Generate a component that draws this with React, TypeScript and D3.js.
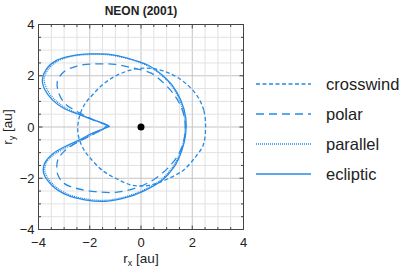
import React from 'react';
import * as d3 from 'd3';

type Pt = [number, number];

// curves, in au
const ecliptic: Pt[] = [
  [-1.22, 0.02], [-1.5, 0.15], [-1.85, 0.27], [-2.4, 0.48], [-3.0, 0.72], [-3.45, 1.05],
  [-3.75, 1.45], [-3.85, 1.85], [-3.7, 2.25], [-3.3, 2.6], [-2.7, 2.78], [-2.0, 2.85],
  [-1.3, 2.84], [-0.5, 2.68], [0.3, 2.4], [0.8, 2.05], [1.2, 1.65], [1.55, 1.05],
  [1.75, 0.35], [1.74, -0.3], [1.6, -0.9], [1.3, -1.55], [0.8, -2.1], [0.1, -2.5],
  [-0.6, -2.76], [-1.4, -2.9], [-2.2, -2.84], [-2.9, -2.65], [-3.45, -2.3], [-3.8, -1.8],
  [-3.75, -1.4], [-3.45, -1.05], [-3.0, -0.78], [-2.4, -0.5], [-1.85, -0.22], [-1.5, -0.08],
  [-1.22, 0.02],
];

const parallel: Pt[] = [
  [-1.25, 0.05], [-1.55, 0.17], [-1.9, 0.3], [-2.45, 0.52], [-3.0, 0.78], [-3.4, 1.1],
  [-3.68, 1.5], [-3.78, 1.88], [-3.62, 2.25], [-3.25, 2.57], [-2.7, 2.76], [-2.0, 2.83],
  [-1.3, 2.82], [-0.5, 2.66], [0.3, 2.37], [0.8, 2.02], [1.2, 1.6], [1.52, 1.02],
  [1.7, 0.35], [1.7, -0.3], [1.56, -0.9], [1.26, -1.52], [0.78, -2.06], [0.1, -2.46],
  [-0.6, -2.72], [-1.4, -2.86], [-2.2, -2.8], [-2.9, -2.6], [-3.42, -2.25], [-3.74, -1.78],
  [-3.7, -1.4], [-3.4, -1.08], [-2.95, -0.82], [-2.4, -0.55], [-1.85, -0.27], [-1.52, -0.12],
  [-1.25, 0.05],
];

const polar: Pt[] = [
  [-1.3, 0.05], [-1.9, 0.3], [-2.4, 0.55], [-2.95, 0.9], [-3.2, 1.3], [-3.27, 1.75],
  [-3.05, 2.12], [-2.5, 2.38], [-1.8, 2.46], [-1.0, 2.44], [-0.3, 2.3], [0.4, 2.1],
  [0.9, 1.7], [1.3, 1.25], [1.58, 0.75], [1.72, 0.2], [1.7, -0.4], [1.5, -1.0],
  [1.1, -1.55], [0.5, -2.05], [-0.2, -2.38], [-1.0, -2.55], [-1.8, -2.52], [-2.5, -2.4],
  [-3.0, -2.2], [-3.25, -1.85], [-3.25, -1.3], [-3.0, -0.95], [-2.5, -0.6], [-1.9, -0.3],
  [-1.3, 0.05],
];

const crosswind: Pt[] = [
  [2.52, 0], [2.45, 0.65], [2.2, 1.2], [1.75, 1.7], [1.15, 2.08], [0.45, 2.28],
  [-0.2, 2.27], [-0.85, 2.06], [-1.4, 1.73], [-1.85, 1.3], [-2.22, 0.85], [-2.43, 0.3],
  [-2.45, -0.3], [-2.25, -0.85], [-1.95, -1.25], [-1.5, -1.7], [-0.95, -2.02], [-0.35, -2.27],
  [0.3, -2.28], [0.8, -2.13], [1.45, -1.82], [1.7, -1.65], [2.1, -1.2], [2.43, -0.7],
];

const majorTicks = [-4, -2, 0, 2, 4];
const legendNames = ['crosswind', 'polar', 'parallel', 'ecliptic'];

const BLUE = '#268be6';
const styles: Record<string, string | undefined> = {
  crosswind: '4,2.5',
  polar: '8,5',
  parallel: '1,1',
  ecliptic: undefined,
};

const App = () => {
  const left = 38.5, right = 243.5, top = 24.5, bottom = 229.5;
  const x = d3.scaleLinear().domain([-4, 4]).range([left, right]);
  const y = d3.scaleLinear().domain([-4, 4]).range([bottom, top]);

  const open = d3.line<Pt>().x(d => x(d[0])).y(d => y(d[1])).curve(d3.curveCatmullRom.alpha(0.5));
  const closed = d3.line<Pt>().x(d => x(d[0])).y(d => y(d[1])).curve(d3.curveCatmullRomClosed.alpha(0.5));

  const minor = d3.range(-4, 4.01, 0.5);
  const font = 'Liberation Sans, Arial, Helvetica, sans-serif';

  const curves: [string, string][] = [
    ['crosswind', closed(crosswind) as string],
    ['polar', open(polar) as string],
    ['parallel', open(parallel) as string],
    ['ecliptic', open(ecliptic) as string],
  ];

  return (
    <svg width={407} height={269} style={{ position: 'absolute', left: 0, top: 0 }} fontFamily={font}>
      <rect width={407} height={269} fill="#fff" />
      <text x={141} y={15} textAnchor="middle" fontSize={12} fontWeight="bold" fill="#222">NEON (2001)</text>

      {/* grid */}
      {minor.map(v => (
        <g key={'g' + v}>
          <line x1={x(v)} x2={x(v)} y1={top} y2={bottom}
            stroke={v % 2 === 0 ? '#c4c4c4' : '#e2e2e2'} strokeWidth={1} />
          <line y1={y(v)} y2={y(v)} x1={left} x2={right}
            stroke={v % 2 === 0 ? '#c4c4c4' : '#e2e2e2'} strokeWidth={1} />
        </g>
      ))}

      {/* inner ticks on all four sides */}
      {minor.map(v => {
        const len = v % 2 === 0 ? 4 : 2.5;
        return (
          <g key={'t' + v} stroke="#444" strokeWidth={1}>
            <line x1={x(v)} x2={x(v)} y1={bottom} y2={bottom - len} />
            <line x1={x(v)} x2={x(v)} y1={top} y2={top + len} />
            <line y1={y(v)} y2={y(v)} x1={left} x2={left + len} />
            <line y1={y(v)} y2={y(v)} x1={right} x2={right - len} />
          </g>
        );
      })}

      {curves.map(([name, d]) => (
        <path key={name} d={d} fill="none" stroke={BLUE} strokeWidth={1.3}
          strokeDasharray={styles[name]} />
      ))}

      <circle cx={x(0)} cy={y(0)} r={3.5} fill="#000" />

      <rect x={left} y={top} width={right - left} height={bottom - top} fill="none" stroke="#444" strokeWidth={1} />

      {majorTicks.map(v => (
        <text key={'xl' + v} x={x(v)} y={bottom + 17} textAnchor="middle" fontSize={13} fill="#222">
          {v < 0 ? '\u2212' + Math.abs(v) : v}
        </text>
      ))}
      {majorTicks.map(v => (
        <text key={'yl' + v} x={left - 4} y={y(v) + 4.5} textAnchor="end" fontSize={13} fill="#222">
          {v < 0 ? '\u2212' + Math.abs(v) : v}
        </text>
      ))}

      <text x={141} y={263} textAnchor="middle" fontSize={13.5} fill="#222">
        r<tspan fontSize={9} dy={3}>x</tspan><tspan dy={-3}> [au]</tspan>
      </text>
      <text transform={`translate(12,${y(0)}) rotate(-90)`} textAnchor="middle" fontSize={13.5} fill="#222">
        r<tspan fontSize={9} dy={3}>y</tspan><tspan dy={-3}> [au]</tspan>
      </text>

      {legendNames.map((name, i) => {
        const ly = 84 + i * 30;
        return (
          <g key={name}>
            <line x1={256} x2={311} y1={ly} y2={ly} stroke={BLUE} strokeWidth={1.5}
              strokeDasharray={styles[name]} />
            <text x={326} y={ly + 6} fontSize={16.5} fill="#222">{name}</text>
          </g>
        );
      })}
    </svg>
  );
};

export default App;
